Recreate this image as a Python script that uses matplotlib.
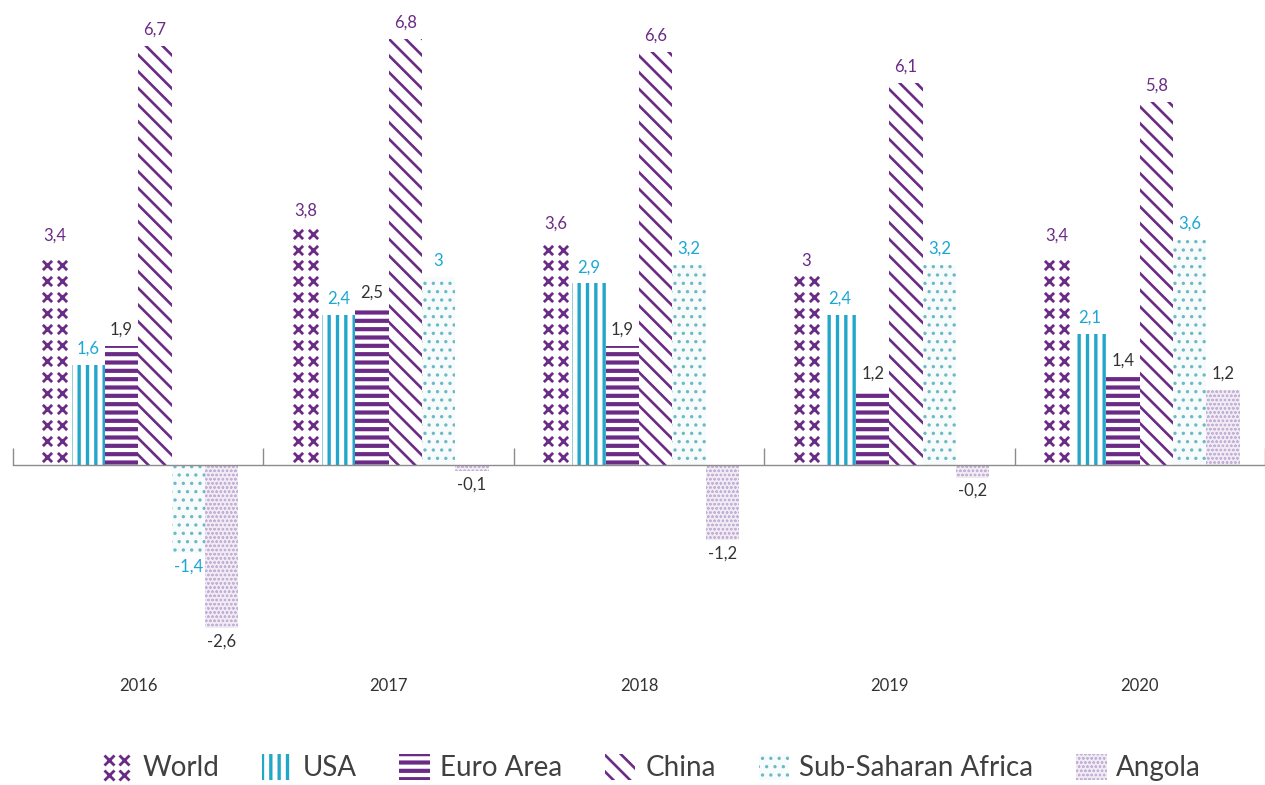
import numpy as np
import matplotlib
matplotlib.use("Agg")
import matplotlib.pyplot as plt
from matplotlib.legend_handler import HandlerBase
from matplotlib.lines import Line2D
from matplotlib.patches import Rectangle

# GDP growth (%) by year
years = ["2016", "2017", "2018", "2019", "2020"]
world = [3.4, 3.8, 3.6, 3.0, 3.4]
usa = [1.6, 2.4, 2.9, 2.4, 2.1]
euro_area = [1.9, 2.5, 1.9, 1.2, 1.4]
china = [6.7, 6.8, 6.6, 6.1, 5.8]
sub_saharan_africa = [-1.4, 3.0, 3.2, 3.2, 3.6]
angola = [-2.6, -0.1, -1.2, -0.2, 1.2]

series_names = ["World", "USA", "Euro Area", "China", "Sub-Saharan Africa", "Angola"]
series_values = [world, usa, euro_area, china, sub_saharan_africa, angola]

PURPLE = "#6b2a86"
CYAN = "#1aa7d4"
DARK = "#333333"

# drawing style for each series: face, hatch, hatch colour, hatch width, label colour
styles = {
    "World": dict(face="white", hatch=None, hcolor=PURPLE, hlw=0, label=PURPLE),
    "USA": dict(face="white", hatch="||", hcolor="#22a6c9", hlw=2.4, label=CYAN),
    "Euro Area": dict(face="white", hatch="--", hcolor=PURPLE, hlw=3.0, label=DARK),
    "China": dict(face="white", hatch="\\\\", hcolor=PURPLE, hlw=1.9, label=PURPLE),
    "Sub-Saharan Africa": dict(face="#f7fbfc", hatch="..", hcolor="#6bbac5", hlw=1.2, label=CYAN),
    "Angola": dict(face="#f1ebf6", hatch="oooo", hcolor="#c3b2d4", hlw=0.6, label=DARK),
}

plt.rcParams["font.family"] = ["Lato", "DejaVu Sans"]

fig = plt.figure(figsize=(12.65, 7.85), dpi=100)
ax = fig.add_axes([13 / 1265, 85 / 785, 1 - 13 / 1265, 680 / 785])

x = np.arange(len(years))
width = 0.133
n = len(series_names)


def make_hatched(patch, st):
    if st["hatch"]:
        patch.set_hatch(st["hatch"])
        if hasattr(patch, "set_hatch_linewidth"):
            patch.set_hatch_linewidth(st["hlw"])


for i, (name, vals) in enumerate(zip(series_names, series_values)):
    st = styles[name]
    pos = x + (i - (n - 1) / 2) * width
    with plt.rc_context({"hatch.linewidth": max(st["hlw"], 0.1)}):
        bars = ax.bar(pos, vals, width, color=st["face"], edgecolor=st["hcolor"],
                      linewidth=0, zorder=2)
    for b in bars:
        make_hatched(b, st)

    if name == "World":
        # column of small crosses filling each bar
        step = 0.255
        for p, v in zip(pos, vals):
            rows = np.arange(step / 2, v - step / 4, step)
            for dx in (-0.03, 0.03):
                ax.scatter(np.full(rows.size, p + dx), rows, marker="x", s=44,
                           linewidths=2.0, color=PURPLE, zorder=3)

    for p, v in zip(pos, vals):
        txt = f"{v:g}".replace(".", ",")
        if v >= 0:
            ax.annotate(txt, (p, v), xytext=(0, 6), textcoords="offset points",
                        ha="center", va="bottom", fontsize=12, color=st["label"])
        else:
            ax.annotate(txt, (p, v), xytext=(0, -4), textcoords="offset points",
                        ha="center", va="top", fontsize=12, color=st["label"])

ax.set_xlim(-0.5, 4.44)
ax.set_ylim(-3.754, 7.109)
for s in ("top", "right", "left"):
    ax.spines[s].set_visible(False)
ax.spines["bottom"].set_position(("data", 0))
ax.spines["bottom"].set_color("#8c8c8c")
ax.spines["bottom"].set_linewidth(1.0)
ax.set_yticks([])
ax.set_xticks(x, years)
ax.set_xticks(np.arange(-0.5, len(years), 1.0), minor=True)
ax.tick_params(axis="x", which="major", length=0, pad=153, labelsize=12, labelcolor=DARK)
ax.tick_params(axis="x", which="minor", direction="in", length=12, width=1.0, color="#8c8c8c")


class HatchHandler(HandlerBase):
    def __init__(self, st):
        super().__init__()
        self.st = st

    def create_artists(self, legend, orig_handle, xdescent, ydescent, width, height,
                       fontsize, trans):
        st = self.st
        with plt.rc_context({"hatch.linewidth": max(st["hlw"], 0.1)}):
            r = Rectangle((-xdescent, -ydescent), width, height, facecolor=st["face"],
                          edgecolor=st["hcolor"], linewidth=0, transform=trans)
        make_hatched(r, st)
        return [r]


class CrossHandler(HandlerBase):
    def create_artists(self, legend, orig_handle, xdescent, ydescent, width, height,
                       fontsize, trans):
        arts = []
        for fx in (0.22, 0.72):
            for fy in (0.2, 0.75):
                m = Line2D([-xdescent + fx * width], [-ydescent + fy * height],
                           marker="x", markersize=6.5, markeredgewidth=2.0,
                           color=PURPLE, linestyle="none", transform=trans)
                arts.append(m)
        return arts


handles = [Rectangle((0, 0), 1, 1) for _ in series_names]
handler_map = {}
for h, name in zip(handles, series_names):
    handler_map[h] = CrossHandler() if name == "World" else HatchHandler(styles[name])

fig.legend(handles, series_names, handler_map=handler_map, loc="center",
           bbox_to_anchor=(0.515, 0.022), ncol=6, frameon=False, fontsize=20,
           labelcolor="#404040", handlelength=1.1, handleheight=1.05,
           handletextpad=0.35, columnspacing=1.55)

fig.savefig("out.png", dpi=100)
